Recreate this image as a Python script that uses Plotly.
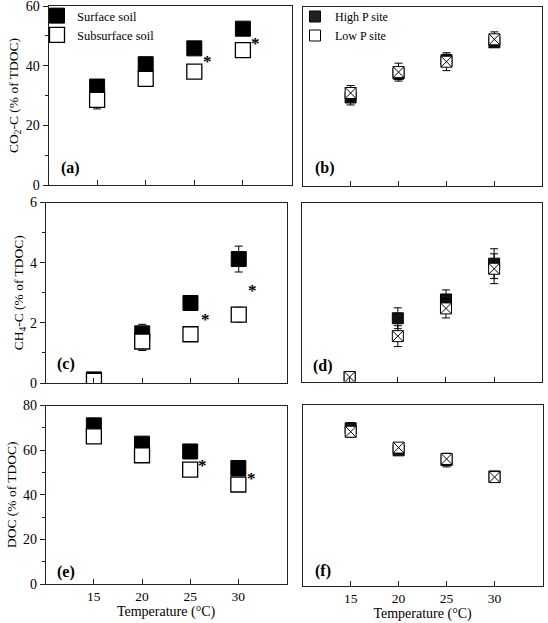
import plotly.graph_objects as go

FONT = "Liberation Serif, Times New Roman, serif"

temps = [15, 20, 25, 30]

# Panel (a)/(c)/(e): soil depth
co2_surface = [33.0, 40.5, 45.8, 52.4]
co2_surface_err = [1.5, 1.5, 1.5, 1.0]
co2_subsurface = [28.5, 35.6, 38.0, 45.2]
co2_subsurface_err = [3.0, 2.5, 1.5, 1.0]
ch4_surface = [0.12, 1.65, 2.66, 4.12]
ch4_surface_err = [0.05, 0.3, 0.12, 0.43]
ch4_subsurface = [0.07, 1.38, 1.62, 2.27]
ch4_subsurface_err = [0.05, 0.3, 0.08, 0.25]
doc_surface = [71.1, 62.9, 59.4, 52.0]
doc_surface_err = [2.5, 1.5, 1.0, 1.0]
doc_subsurface = [66.2, 57.7, 51.3, 44.6]
doc_subsurface_err = [1.5, 1.5, 1.0, 1.0]

# Panel (b)/(d)/(f): P site
co2_high = [29.5, 37.5, 42.0, 48.0]
co2_high_err = [2.5, 2.0, 2.0, 1.5]
co2_low = [31.0, 38.0, 41.5, 49.0]
co2_low_err = [2.5, 3.0, 3.0, 2.5]
ch4_high = [0.15, 2.12, 2.75, 3.95]
ch4_high_err = [0.05, 0.35, 0.32, 0.5]
ch4_low = [0.15, 1.52, 2.45, 3.78]
ch4_low_err = [0.05, 0.35, 0.32, 0.5]
doc_high = [69.5, 59.8, 55.5, 48.3]
doc_high_err = [2.5, 1.0, 3.0, 1.0]
doc_low = [68.0, 61.0, 56.0, 48.0]
doc_low_err = [2.5, 1.0, 2.0, 1.0]

# significance asterisks
co2_sig_x = [26.4, 31.3]
co2_sig_y = [42.6, 48.9]
ch4_sig_x = [26.6, 31.4]
ch4_sig_y = [2.23, 3.21]
doc_sig_x = [26.3, 31.4]
doc_sig_y = [55.1, 49.0]

panel_labels = ["(a)", "(b)", "(c)", "(d)", "(e)", "(f)"]
y_titles = ["CO<sub>2</sub>-C (% of TDOC)", "CH<sub>4</sub>-C (% of TDOC)", "DOC (% of TDOC)"]
y_ranges = [[0, 60], [0, 6], [0, 80]]
y_ticks = [[0, 20, 40, 60], [0, 2, 4, 6], [0, 20, 40, 60, 80]]
y_minor = [10, 1, 10]
x_ticks = [15, 20, 25, 30]

fig = go.Figure()

W, H = 548, 623
# pixel boxes (left, right, top, bottom) of each panel a..f
boxes = [
    (48.5, 291.5, 6.0, 185.0),
    (302.7, 542.3, 6.5, 185.5),
    (45.7, 287.0, 202.5, 383.0),
    (301.5, 542.3, 202.5, 381.5),
    (45.7, 286.5, 405.5, 584.0),
    (302.7, 542.5, 404.5, 586.0),
]

err_style = dict(type="data", visible=True, color="black", thickness=1, width=4)


def left_pair(row, surf, surf_err, sub, sub_err, show):
    xa = "x%d" % (2 * row + 1) if row else "x"
    ya = "y%d" % (2 * row + 1) if row else "y"
    fig.add_trace(go.Scatter(
        x=temps, y=surf, mode="markers", name="Surface soil", legend="legend",
        showlegend=show, xaxis=xa, yaxis=ya,
        marker=dict(symbol="square", size=15, color="black", line=dict(color="black", width=1)),
        error_y=dict(array=surf_err, **err_style)))
    fig.add_trace(go.Scatter(
        x=temps, y=sub, mode="markers", name="Subsurface soil", legend="legend",
        showlegend=show, xaxis=xa, yaxis=ya,
        marker=dict(symbol="square", size=15, color="white", line=dict(color="black", width=1.3)),
        error_y=dict(array=sub_err, **err_style)))


def right_pair(row, high, high_err, low, low_err):
    xa = "x%d" % (2 * row + 2)
    ya = "y%d" % (2 * row + 2)
    fig.add_trace(go.Scatter(
        x=temps, y=high, mode="markers", name="High P site", showlegend=False,
        xaxis=xa, yaxis=ya,
        marker=dict(symbol="square", size=11, color="#111111", line=dict(color="black", width=1)),
        error_y=dict(array=high_err, **err_style)))
    fig.add_trace(go.Scatter(
        x=temps, y=low, mode="markers", name="Low P site", showlegend=False,
        xaxis=xa, yaxis=ya,
        marker=dict(symbol="square-x", size=11, color="white", line=dict(color="black", width=1)),
        error_y=dict(array=low_err, **err_style)))


left_pair(0, co2_surface, co2_surface_err, co2_subsurface, co2_subsurface_err, True)
left_pair(1, ch4_surface, ch4_surface_err, ch4_subsurface, ch4_subsurface_err, False)
left_pair(2, doc_surface, doc_surface_err, doc_subsurface, doc_subsurface_err, False)
right_pair(0, co2_high, co2_high_err, co2_low, co2_low_err)
right_pair(1, ch4_high, ch4_high_err, ch4_low, ch4_low_err)
right_pair(2, doc_high, doc_high_err, doc_low, doc_low_err)

# legend-only entries for panel (b)
fig.add_trace(go.Scatter(x=[None], y=[None], mode="markers", name="High P site", legend="legend2",
                         xaxis="x2", yaxis="y2",
                         marker=dict(symbol="square", size=11, color="#222222", line=dict(color="black", width=1))))
fig.add_trace(go.Scatter(x=[None], y=[None], mode="markers", name="Low P site", legend="legend2",
                         xaxis="x2", yaxis="y2",
                         marker=dict(symbol="square", size=11, color="white", line=dict(color="black", width=1))))

# asterisks
for row, (sx, sy) in enumerate([(co2_sig_x, co2_sig_y), (ch4_sig_x, ch4_sig_y), (doc_sig_x, doc_sig_y)]):
    xa = "x%d" % (2 * row + 1) if row else "x"
    ya = "y%d" % (2 * row + 1) if row else "y"
    for xv, yv in zip(sx, sy):
        fig.add_annotation(x=xv, y=yv, xref=xa, yref=ya, text="<b>*</b>", showarrow=False,
                           font=dict(family=FONT, size=17, color="black"), yshift=-4)

axis_common = dict(showline=True, linecolor="#222222", linewidth=1, mirror=True,
                   showgrid=False, zeroline=False, automargin=False, ticklabeloverflow="allow")

layout = {}
for row in range(3):
    for col in range(2):
        idx = 2 * row + col + 1
        l, r, t, b = boxes[idx - 1]
        xname = "xaxis" if idx == 1 else "xaxis%d" % idx
        yname = "yaxis" if idx == 1 else "yaxis%d" % idx
        ya_ref = "y" if idx == 1 else "y%d" % idx
        xa_ref = "x" if idx == 1 else "x%d" % idx
        xaxis = dict(axis_common, domain=[l / W, r / W],
                     range=[10, 35], tickvals=x_ticks, ticks="inside", ticklen=5,
                     tickcolor="#222222", anchor=ya_ref,
                     showticklabels=(row == 2),
                     tickfont=dict(family=FONT, size=13.5, color="black"))
        if row == 2:
            xaxis["title"] = dict(text="Temperature (°C)", font=dict(family=FONT, size=14, color="black"),
                                  standoff=2)
        yaxis = dict(axis_common, domain=[1 - b / H, 1 - t / H], range=y_ranges[row], anchor=xa_ref)
        if col == 0:
            yaxis.update(tickvals=y_ticks[row], ticks="outside", ticklen=5, tickcolor="#222222",
                         tickfont=dict(family=FONT, size=14, color="black"),
                         minor=dict(dtick=y_minor[row], tick0=0, ticks="outside", ticklen=3,
                                    tickcolor="#222222"),
                         title=dict(text=y_titles[row], font=dict(family=FONT, size=13.5, color="black"),
                                    standoff=3))
        else:
            yaxis.update(showticklabels=False, ticks="")
        layout[xname] = xaxis
        layout[yname] = yaxis

label_pos = [(0.045, 0.095), (0.042, 0.095), (0.038, 0.105), (0.040, 0.084), (0.038, 0.069), (0.044, 0.085)]
for i, lab in enumerate(panel_labels):
    xr = "x domain" if i == 0 else "x%d domain" % (i + 1)
    yr = "y domain" if i == 0 else "y%d domain" % (i + 1)
    fig.add_annotation(x=label_pos[i][0], y=label_pos[i][1], xref=xr, yref=yr, xanchor="left",
                       yanchor="middle", text="<b>%s</b>" % lab, showarrow=False,
                       font=dict(family=FONT, size=16, color="black"))

fig.update_layout(
    width=W, height=H,
    margin=dict(l=0, r=0, t=0, b=0, autoexpand=False),
    paper_bgcolor="white", plot_bgcolor="white",
    font=dict(family=FONT, color="black"),
    legend=dict(x=37 / W, y=1 - 1 / H, xanchor="left", yanchor="top",
                bgcolor="rgba(0,0,0,0)", font=dict(family=FONT, size=12.5, color="black"),
                itemwidth=30, tracegroupgap=0),
    legend2=dict(x=295 / W, y=1 - 2 / H, xanchor="left", yanchor="top",
                 bgcolor="rgba(0,0,0,0)", font=dict(family=FONT, size=12, color="black"),
                 itemwidth=30, tracegroupgap=0),
    showlegend=True,
    **layout,
)

fig.write_html("out.html", config={"displayModeBar": False},
               post_script="document.body.style.margin='0px';")
